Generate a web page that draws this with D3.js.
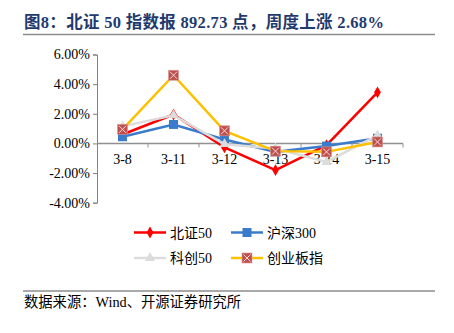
<!DOCTYPE html>
<html><head><meta charset="utf-8">
<script src="https://cdn.jsdelivr.net/npm/d3@7/dist/d3.min.js"></script>
<style>body{margin:0;background:#fff;} svg{display:block;}</style>
</head><body>
<script>
const categories = ["3-8","3-11","3-12","3-13","3-14","3-15"];
const bz50 = [0.6, 1.95, -0.27, -1.8, -0.12, 3.45];
const hs300 = [0.45, 1.28, 0.27, -0.57, -0.18, 0.35];
const kc50 = [1.15, 1.9, -0.05, -0.35, -1.25, 0.55];
const cyb = [0.95, 4.6, 0.85, -0.52, -0.57, 0.1];
const seriesNames = ["北证50","沪深300","科创50","创业板指"];
const yTicks = [-4, -2, 0, 2, 4, 6];

const W = 454, H = 333;
const serif = "'Liberation Serif','Times New Roman','Noto Sans CJK SC',serif";
const svg = d3.select("body").append("svg").attr("width", W).attr("height", H);

// title
svg.append("text").attr("x", 24).attr("y", 28)
  .attr("font-family", serif).attr("font-weight", "bold").attr("font-size", 16.5)
  .attr("letter-spacing", 0.3)
  .attr("fill", "#1F3A6E").text("图8：北证 50 指数报 892.73 点，周度上涨 2.68%");
svg.append("line").attr("x1", 23).attr("x2", 435).attr("y1", 34.5).attr("y2", 34.5)
  .attr("stroke", "#8c8c8c").attr("stroke-width", 1.5);

const x = d3.scaleBand().domain(categories).range([97, 403]);
const y = d3.scaleLinear().domain([-4, 6]).range([202.7, 54.5]);

// y axis
const yAxis = d3.axisLeft(y).tickValues(yTicks).tickSize(4).tickFormat(d => d.toFixed(2) + "%");
const gy = svg.append("g").attr("transform", "translate(97,0)").call(yAxis);
gy.select(".domain").attr("stroke", "#808080");
gy.selectAll(".tick line").attr("stroke", "#808080");
gy.selectAll("text").attr("font-family", serif).attr("font-size", 14).attr("fill", "#000").attr("x", -7);

// x axis at zero
const gx = svg.append("g").attr("transform", `translate(0,${y(0)})`);
gx.append("line").attr("x1", 97).attr("x2", 403).attr("stroke", "#909090").attr("stroke-width", 1.5);
const bounds = categories.map(c => x(c) + x.bandwidth());
gx.selectAll(".tk").data(bounds).join("line").attr("x1", d => d).attr("x2", d => d)
  .attr("y1", 0).attr("y2", 4).attr("stroke", "#909090");
gx.selectAll(".lbl").data(categories).join("text")
  .attr("x", d => x(d) + x.bandwidth() / 2).attr("y", 21)
  .attr("text-anchor", "middle").attr("font-family", serif).attr("font-size", 14).text(d => d);

const cx = c => x(c) + x.bandwidth() / 2;
const line = d3.line().x((d, i) => cx(categories[i])).y(d => y(d));

const series = [
  {name: seriesNames[0], data: bz50, color: "#FF0000", marker: "diamond"},
  {name: seriesNames[1], data: hs300, color: "#3A7CCB", marker: "square"},
  {name: seriesNames[2], data: kc50, color: "#DCDCDC", marker: "triangle"},
  {name: seriesNames[3], data: cyb, color: "#FFC000", marker: "xbox"}
];

function drawMarker(g, type, px, py, color) {
  if (type === "diamond") {
    g.append("path").attr("d", d3.symbol(d3.symbolDiamond, 40)()).attr("transform", `translate(${px},${py})`).attr("fill", color);
  } else if (type === "square") {
    g.append("rect").attr("x", px - 4.5).attr("y", py - 4.5).attr("width", 9).attr("height", 9).attr("fill", color);
  } else if (type === "triangle") {
    g.append("path").attr("d", d3.symbol(d3.symbolTriangle, 45)()).attr("transform", `translate(${px},${py})`).attr("fill", color);
  } else {
    g.append("rect").attr("x", px - 5).attr("y", py - 5).attr("width", 10).attr("height", 10).attr("fill", "#C0504D").attr("stroke", "#D99694").attr("stroke-width", 0.6);
    g.append("path").attr("d", `M${px-3.5},${py-3.5}L${px+3.5},${py+3.5}M${px+3.5},${py-3.5}L${px-3.5},${py+3.5}`)
      .attr("stroke", "#F2DCDB").attr("stroke-width", 1);
  }
}

series.forEach(s => {
  const g = svg.append("g");
  g.append("path").attr("d", line(s.data)).attr("fill", "none").attr("stroke", s.color).attr("stroke-width", 2.5);
  s.data.forEach((v, i) => drawMarker(g, s.marker, cx(categories[i]), y(v), s.color));
});

// legend
const legendPos = [[134, 232.5], [231, 232.5], [134, 258], [231, 258]];
series.forEach((s, i) => {
  const [lx, ly] = legendPos[i];
  const g = svg.append("g");
  g.append("line").attr("x1", lx).attr("x2", lx + 32).attr("y1", ly).attr("y2", ly).attr("stroke", s.color).attr("stroke-width", 2.5);
  drawMarker(g, s.marker, lx + 16, ly, s.color);
  g.append("text").attr("x", lx + 36).attr("y", ly + 5).attr("font-family", serif).attr("font-size", 14).text(s.name);
});

// footer
svg.append("line").attr("x1", 23).attr("x2", 435).attr("y1", 291).attr("y2", 291)
  .attr("stroke", "#8c8c8c").attr("stroke-width", 1.5);
svg.append("text").attr("x", 24).attr("y", 307).attr("font-family", serif).attr("font-size", 14.3).text("数据来源：Wind、开源证券研究所");
</script>
</body></html>
